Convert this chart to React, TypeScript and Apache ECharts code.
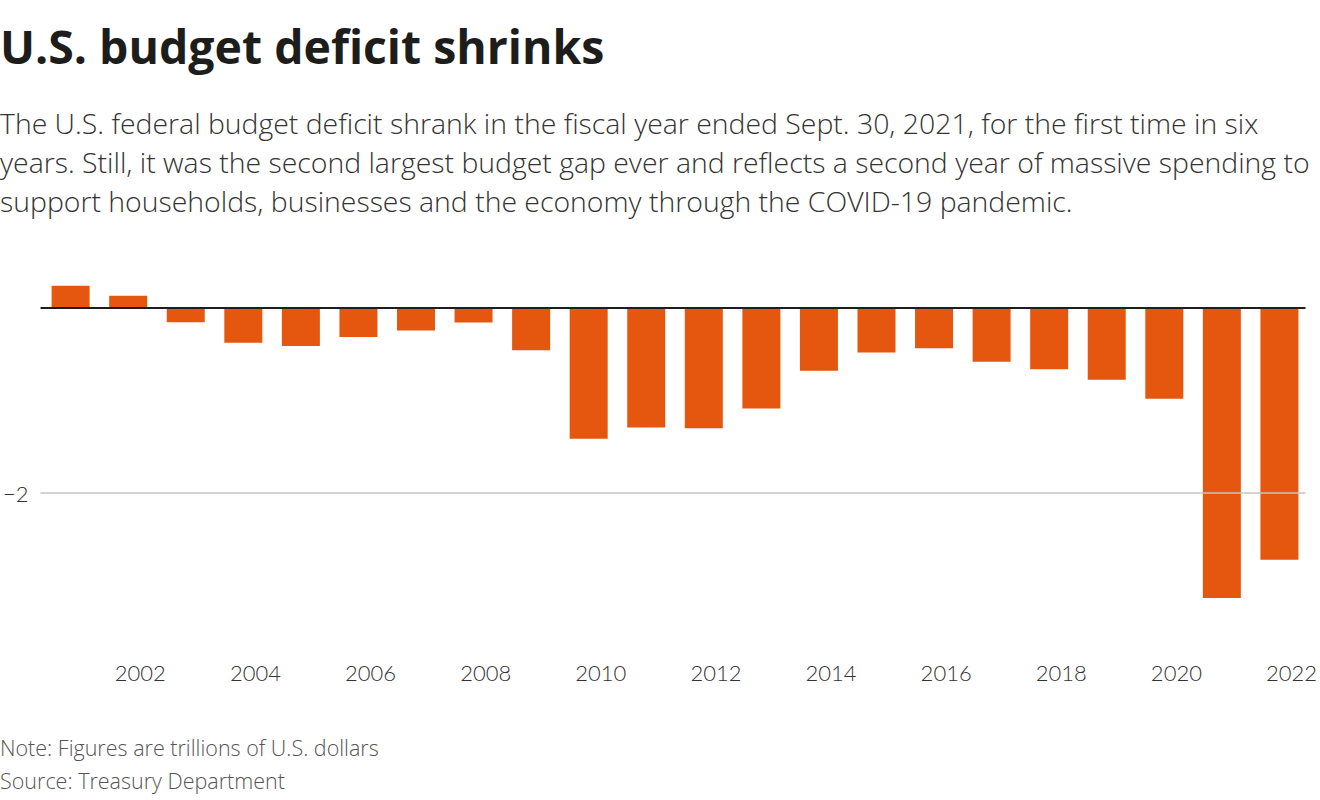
import React, { useEffect, useRef } from "react";
import * as echarts from "echarts";

const fiscalYears = [2000, 2001, 2002, 2003, 2004, 2005, 2006, 2007, 2008, 2009, 2010, 2011, 2012, 2013, 2014, 2015, 2016, 2017, 2018, 2019, 2020, 2021];
const balances = [0.236, 0.128, -0.158, -0.378, -0.413, -0.318, -0.248, -0.161, -0.459, -1.413, -1.294, -1.3, -1.087, -0.68, -0.485, -0.438, -0.585, -0.665, -0.779, -0.984, -3.132, -2.72];
const xTickYears = [2002, 2004, 2006, 2008, 2010, 2012, 2014, 2016, 2018, 2020, 2022];
const yTickValues = [-2];

const titleText = "U.S. budget deficit shrinks";
const subtitleText =
  "The U.S. federal budget deficit shrank in the fiscal year ended Sept. 30, 2021, for the first time in six\n" +
  "years. Still, it was the second largest budget gap ever and reflects a second year of massive spending to\n" +
  "support households, businesses and the economy through the COVID-19 pandemic.";
const noteText = "Note: Figures are trillions of U.S. dollars\nSource: Treasury Department";

// fiscal year ends Sept. 30 -> bar placed near year end date
const FY_END_OFFSET = 0.79;

const FONT = "Lato, 'Noto Sans', sans-serif";
const TEXT_FONT = "'Open Sans', Lato, sans-serif";

export default function App() {
  const ref = useRef<HTMLDivElement>(null);
  useEffect(() => {
    if (!ref.current) return;
    const chart = echarts.init(ref.current, undefined, { renderer: "svg" });
    const data = fiscalYears.map((fy, i) => [fy + FY_END_OFFSET, balances[i]]);
    chart.setOption({
      animation: false,
      backgroundColor: "#ffffff",
      title: [
        {
          text: titleText,
          left: 0,
          top: 18,
          padding: 0,
          textStyle: { fontFamily: TEXT_FONT, fontSize: 46.4, fontWeight: "bold", color: "#1d1d1b", lineHeight: 56 },
        },
        {
          text: subtitleText,
          left: 0,
          top: 103,
          padding: 0,
          textStyle: { fontFamily: TEXT_FONT, fontSize: 28.4, fontWeight: 300, color: "#333333", lineHeight: 39 },
        },
        {
          text: noteText,
          left: 0,
          top: 731,
          padding: 0,
          textStyle: { fontFamily: TEXT_FONT, fontSize: 21.5, fontWeight: 300, color: "#555555", lineHeight: 33 },
        },
      ],
      grid: { left: 38, right: 13.5, top: 279.8, bottom: 167.8, containLabel: false },
      xAxis: {
        type: "value",
        min: 2000.267,
        max: 2022.243,
        axisLine: { show: false },
        axisTick: { show: false },
        splitLine: { show: false },
        axisLabel: {
          customValues: xTickYears,
          formatter: (v: number) => String(Math.round(v)),
          fontFamily: FONT,
          fontSize: 22,
          fontWeight: 300,
          color: "#333333",
          margin: 29,
        },
      },
      yAxis: {
        type: "value",
        min: -3.5,
        max: 0.3,
        axisLine: { show: false },
        axisTick: { show: false },
        splitLine: { show: false },
        axisLabel: {
          customValues: yTickValues,
          formatter: (v: number) => (v < 0 ? "\u2212" + Math.abs(v) : String(v)),
          fontFamily: FONT,
          fontSize: 22,
          fontWeight: 300,
          color: "#333333",
          margin: 12,
        },
      },
      series: [
        {
          type: "line",
          data: [],
          z: 1,
          silent: true,
          markLine: {
            silent: true,
            symbol: "none",
            label: { show: false },
            lineStyle: { color: "#c4c4c4", width: 1.5, type: "solid" },
            data: yTickValues.map((v) => ({ yAxis: v })),
          },
        },
        {
          type: "bar",
          data,
          z: 2,
          barWidth: 38,
          itemStyle: { color: "#e5560f" },
        },
        {
          type: "line",
          data: [],
          z: 3,
          silent: true,
          markLine: {
            silent: true,
            symbol: "none",
            label: { show: false },
            lineStyle: { color: "#1e1e1e", width: 2.2, type: "solid" },
            data: [{ yAxis: 0 }],
          },
        },
      ],
    });
    return () => chart.dispose();
  }, []);
  return (
    <div
      ref={ref}
      style={{ position: "absolute", left: 0, top: 0, width: 1320, height: 800, background: "#fff" }}
    />
  );
}
